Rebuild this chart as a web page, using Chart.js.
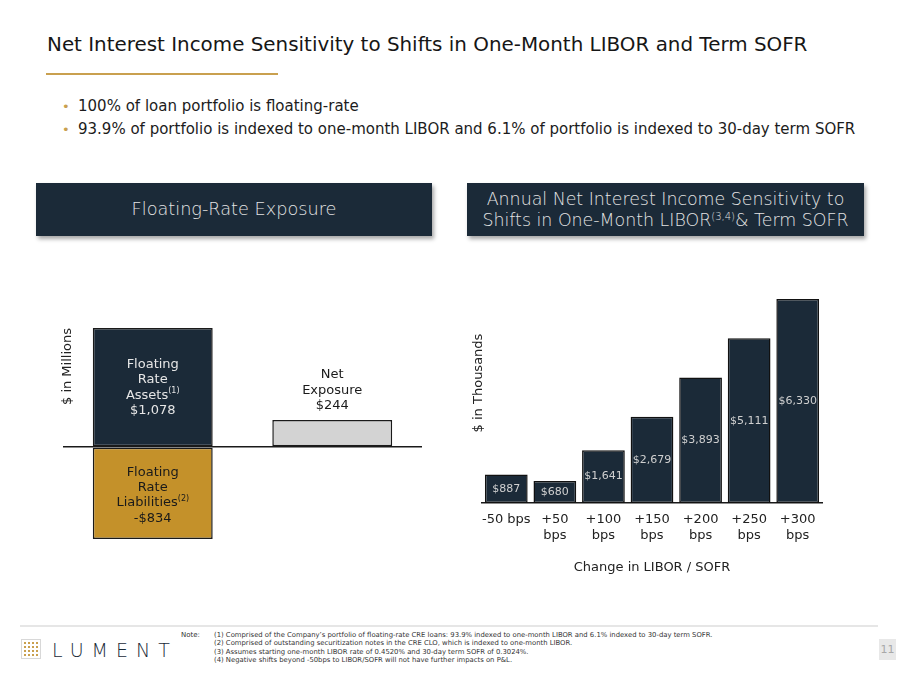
<!DOCTYPE html>
<html>
<head>
<meta charset="utf-8">
<script src="https://cdn.jsdelivr.net/npm/chart.js@4.4.0/dist/chart.umd.min.js"></script>
<style>
html,body{margin:0;padding:0;}
body{width:900px;height:675px;position:relative;overflow:hidden;background:#fff;font-family:"DejaVu Sans",sans-serif;color:#151515;}
.abs{position:absolute;white-space:nowrap;}
#title{left:47px;top:35px;font-size:19.9px;line-height:20px;font-weight:500;color:#161616;}
#rule{left:46px;top:73px;width:232px;height:2px;background:#c9a04f;}
.bullet{left:62px;font-size:15px;line-height:18px;color:#1c1c1c;}
.bullet span.dot{color:#c9a04f;display:inline-block;width:16px;font-size:13px;}
.hdr{top:183px;height:53px;background:#1b2a38;box-shadow:2px 3px 4px rgba(0,0,0,0.35);color:#e4e4e4;font-weight:300;text-align:center;}
#hdrL{left:36px;width:396px;font-size:17.7px;line-height:53px;}
#hdrR{left:467px;width:397px;font-size:17.4px;line-height:21px;padding-top:6px;height:47px;}
sup{font-size:10px;line-height:0;vertical-align:6px;}
#cL{left:40px;top:300px;}
#cR{left:460px;top:255px;}
#foot{left:20px;top:625px;width:858px;height:1.5px;background:#e6e6e6;}
#icon{left:21px;top:639px;width:18px;height:18px;border:1px solid #d8d8d8;display:grid;grid-template-columns:repeat(4,2px);grid-gap:2px;padding:0;justify-content:center;align-content:center;}
#icon i{width:2px;height:2px;background:#c9a04f;display:block;}
#logo{left:52px;top:640px;font-size:19px;line-height:20px;letter-spacing:8px;color:#1b2a38;font-weight:300;}
#noteLbl{left:181px;top:631px;font-size:7px;line-height:8.4px;color:#333;}
#notes{left:214px;top:631px;font-size:6.85px;line-height:8.4px;color:#333;}
#page{left:879px;top:639px;width:17px;height:21px;background:#e8e8e8;color:#a8a8a8;font-size:11px;line-height:21px;text-align:center;}
</style>
</head>
<body>
<div id="title" class="abs">Net Interest Income Sensitivity to Shifts in One-Month LIBOR and Term SOFR</div>
<div id="rule" class="abs"></div>
<div class="abs bullet" style="top:97px;"><span class="dot">•</span>100% of loan portfolio is floating-rate</div>
<div class="abs bullet" style="top:120px;"><span class="dot">•</span>93.9% of portfolio is indexed to one-month LIBOR and 6.1% of portfolio is indexed to 30-day term SOFR</div>
<div id="hdrL" class="abs hdr">Floating-Rate Exposure</div>
<div id="hdrR" class="abs hdr">Annual Net Interest Income Sensitivity to<br>Shifts in One-Month LIBOR<sup>(3,4)</sup>&amp; Term SOFR</div>
<canvas id="cL" class="abs" width="400" height="250"></canvas>
<canvas id="cR" class="abs" width="390" height="330"></canvas>
<div id="foot" class="abs"></div>
<div id="icon" class="abs"><i></i><i></i><i></i><i></i><i></i><i></i><i></i><i></i><i></i><i></i><i></i><i></i><i></i><i></i><i></i><i></i></div>
<div id="logo" class="abs">LUMENT</div>
<div id="noteLbl" class="abs">Note:</div>
<div id="notes" class="abs">(1) Comprised of the Company’s portfolio of floating-rate CRE loans: 93.9% indexed to one-month LIBOR and 6.1% indexed to 30-day term SOFR.<br>(2) Comprised of outstanding securitization notes in the CRE CLO, which is indexed to one-month LIBOR.<br>(3) Assumes starting one-month LIBOR rate of 0.4520% and 30-day term SOFR of 0.3024%.<br>(4) Negative shifts beyond -50bps to LIBOR/SOFR will not have further impacts on P&amp;L.</div>
<div id="page" class="abs">11</div>
<script>
// ---- Data ----
const exposureCategories = ["Floating Rate", "Net Exposure"];
const assetValues = [1078, null];
const liabilityValues = [-834, null];
const netValues = [null, 244];
const assetLabelLines = [["Floating"], ["Rate"], ["Assets", "(1)"]];
const liabilityLabelLines = [["Floating"], ["Rate"], ["Liabilities", "(2)"]];
const netLabelLines = [["Net"], ["Exposure"]];

const sensitivityCategories = ["-50 bps", "+50 bps", "+100 bps", "+150 bps", "+200 bps", "+250 bps", "+300 bps"];
const sensitivityTickLabels = [["-50 bps"], ["+50", "bps"], ["+100", "bps"], ["+150", "bps"], ["+200", "bps"], ["+250", "bps"], ["+300", "bps"]];
const sensitivityValues = [887, 680, 1641, 2679, 3893, 5111, 6330];

const FONT = '"DejaVu Sans", sans-serif';
Chart.defaults.font.family = FONT;

function money(v) {
  const s = "$" + Math.abs(v).toLocaleString("en-US");
  return v < 0 ? "-" + s : s;
}

function drawLines(ctx, lines, cx, cy, lh, size, color) {
  const n = lines.length;
  ctx.save();
  ctx.fillStyle = color;
  ctx.textBaseline = "middle";
  ctx.textAlign = "left";
  lines.forEach((ln, i) => {
    const y = cy + (i - (n - 1) / 2) * lh;
    ctx.font = size + "px " + FONT;
    const w1 = ctx.measureText(ln[0]).width;
    let w2 = 0;
    const supSize = Math.round(size * 0.62);
    if (ln[1]) { ctx.font = supSize + "px " + FONT; w2 = ctx.measureText(ln[1]).width; }
    const x0 = cx - (w1 + w2) / 2;
    ctx.font = size + "px " + FONT;
    ctx.fillText(ln[0], x0, y);
    if (ln[1]) { ctx.font = supSize + "px " + FONT; ctx.fillText(ln[1], x0 + w1, y - 4); }
  });
  ctx.restore();
}

const exposureLabels = {
  id: "exposureLabels",
  afterDatasetsDraw(chart) {
    const ctx = chart.ctx;
    const a = chart.getDatasetMeta(0).data[0];
    const l = chart.getDatasetMeta(1).data[0];
    const n = chart.getDatasetMeta(2).data[1];
    drawLines(ctx, assetLabelLines.concat([[money(assetValues[0])]]), a.x, (a.y + a.base) / 2 + 0.5, 15.3, 13, "#e6e6e6");
    drawLines(ctx, liabilityLabelLines.concat([[money(liabilityValues[0])]]), l.x, (l.y + l.base) / 2 + 2, 15.3, 13, "#1a1a1a");
    drawLines(ctx, netLabelLines.concat([[money(netValues[1])]]), n.x, n.y - 14 - 15.5, 15.5, 13, "#1a1a1a");
  }
};

const sensitivityLabels = {
  id: "sensitivityLabels",
  afterDatasetsDraw(chart) {
    const ctx = chart.ctx;
    ctx.save();
    ctx.fillStyle = "#d0d0d0";
    ctx.font = "11px " + FONT;
    ctx.textAlign = "center";
    ctx.textBaseline = "middle";
    chart.getDatasetMeta(0).data.forEach((bar, i) => {
      ctx.fillText(money(sensitivityValues[i]), bar.x, (bar.y + bar.base) / 2);
    });
    ctx.restore();
  }
};

new Chart(document.getElementById("cL"), {
  type: "bar",
  data: {
    labels: exposureCategories,
    datasets: [
      { label: "Floating Rate Assets", data: assetValues, backgroundColor: "#1b2a38" },
      { label: "Floating Rate Liabilities", data: liabilityValues, backgroundColor: "#c4912a" },
      { label: "Net Exposure", data: netValues, backgroundColor: "#d3d3d3" }
    ]
  },
  options: {
    responsive: false,
    animation: false,
    events: [],
    layout: { padding: { left: 23, right: 18, top: 28, bottom: 11 } },
    datasets: { bar: { borderColor: "#1a1a1a", borderWidth: 1.5, borderSkipped: false, barPercentage: 0.668, categoryPercentage: 1, clip: 4 } },
    plugins: { legend: { display: false }, tooltip: { enabled: false } },
    scales: {
      x: { display: false, stacked: true },
      y: {
        stacked: true, min: -834, max: 1078,
        afterBuildTicks: s => { s.ticks = [{ value: 0 }]; },
        ticks: { display: false },
        border: { display: false },
        grid: { color: "#1a1a1a", lineWidth: 1.5, drawTicks: false },
        title: { display: true, text: "$ in Millions", align: "end", color: "#222", font: { size: 13, lineHeight: 1.2 }, padding: { top: -2.8, bottom: -12.8 } }
      }
    }
  },
  plugins: [exposureLabels]
});

new Chart(document.getElementById("cR"), {
  type: "bar",
  data: {
    labels: sensitivityTickLabels,
    datasets: [
      { label: "Annual NII Sensitivity", data: sensitivityValues, backgroundColor: "#1b2a38", borderColor: "#111", borderWidth: 1.5, borderSkipped: false, barPercentage: 0.88, categoryPercentage: 1, clip: 4 }
    ]
  },
  options: {
    responsive: false,
    animation: false,
    events: [],
    layout: { padding: { left: 10.4, right: 28, top: 8, bottom: 9.4 } },
    plugins: { legend: { display: false }, tooltip: { enabled: false } },
    scales: {
      x: {
        grid: { display: false, drawTicks: false },
        border: { display: true, color: "#1a1a1a", width: 1.5 },
        ticks: { color: "#222", font: { size: 13, lineHeight: 1.23 }, padding: 9, maxRotation: 0, autoSkip: false },
        title: { display: true, text: "Change in LIBOR / SOFR", color: "#222", font: { size: 13, lineHeight: 1.2 }, padding: { top: 7, bottom: 0 } }
      },
      y: {
        min: 0, max: 7450,
        ticks: { display: false },
        grid: { display: false, drawTicks: false },
        border: { display: false },
        title: { display: true, text: "$ in Thousands", color: "#222", font: { size: 13, lineHeight: 1.2 }, padding: { top: 0, bottom: -4 } }
      }
    }
  },
  plugins: [sensitivityLabels]
});
</script>
</body>
</html>
